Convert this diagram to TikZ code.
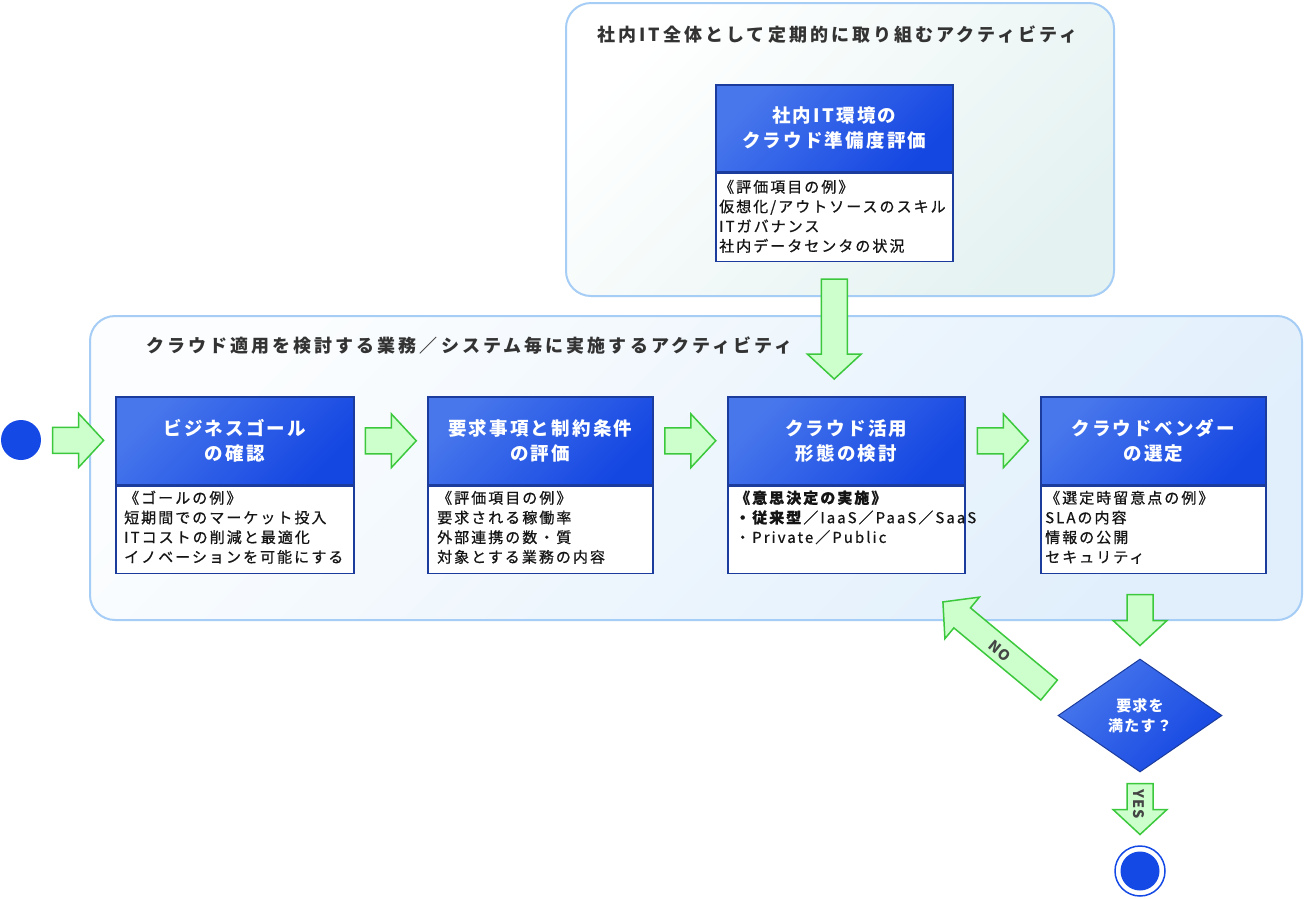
\documentclass[tikz,border=0pt]{standalone}
\usepackage{fontspec}
\usetikzlibrary{shapes.geometric,calc}
\newfontfamily\jpls{Noto Sans CJK JP}[LetterSpace=13.5, FakeBold=0.7]
\newfontfamily\jplsH{Noto Sans CJK JP}[LetterSpace=12]
\newfontfamily\jplsT{Noto Sans CJK JP}[LetterSpace=17]
\newfontfamily\jplab{Noto Sans CJK JP}[LetterSpace=8]
\definecolor{hdrA}{HTML}{4877EC}
\definecolor{hdrB}{HTML}{1446E2}
\definecolor{hdrLine}{HTML}{1B3C9C}
\definecolor{cntLine}{HTML}{A6CDF5}
\definecolor{cntA}{HTML}{FBFDFE}
\definecolor{cntB}{HTML}{E1EFFC}
\definecolor{topA}{HTML}{FFFFFF}
\definecolor{topB}{HTML}{E4F2F1}
\definecolor{arrFill}{HTML}{CCFFCC}
\definecolor{arrLine}{HTML}{3CC83C}
\definecolor{dotBlue}{HTML}{1449E6}
\definecolor{titleGray}{HTML}{333333}
\definecolor{bodyInk}{HTML}{151515}
\definecolor{labGray}{HTML}{444444}
\tikzset{
  container/.style={draw=cntLine, line width=2pt, rounded corners=25pt},
  hdr/.style={draw=hdrLine, line width=1.5pt, top color=hdrA, bottom color=hdrB, shading angle=45,
    inner sep=0pt, anchor=north west, text=white, align=center,
    font={\jplsH\bfseries\fontsize{18.5pt}{25pt}\selectfont}},
  bodyrect/.style={draw=hdrLine, line width=1.5pt, fill=white, inner sep=0pt, anchor=north},
  bodytxt/.style={anchor=west, inner sep=0pt, text=bodyInk, text height=13pt, text depth=2pt,
    font={\jpls\fontsize{15pt}{19.7pt}\selectfont}},
  titletxt/.style={anchor=west, inner sep=0pt, text=titleGray,
    font={\jplsT\bfseries\fontsize{18pt}{22pt}\selectfont}},
  arrstyle/.style={fill=arrFill, draw=arrLine, line width=1.5pt, line join=miter},
  labtxt/.style={inner sep=0pt, text=labGray, font={\jplab\bfseries\fontsize{14.5pt}{16pt}\selectfont}},
  pics/barrow/.style={code={
    \filldraw[arrstyle] ({-#1/2},-13) -- ({#1/2-25},-13) -- ({#1/2-25},-27) -- ({#1/2},0)
      -- ({#1/2-25},27) -- ({#1/2-25},13) -- ({-#1/2},13) -- cycle;
  }}
}
\begin{document}
\begin{tikzpicture}[x=1pt,y=1pt]
\useasboundingbox (0,0) rectangle (1304,-898);
\fill[white] (0,0) rectangle (1304,-898);

% containers
\draw[container, top color=topA, bottom color=topB, shading angle=45] (566,-3) rectangle (1114,-296);
\draw[container, top color=cntA, bottom color=cntB, shading angle=45] (90,-316) rectangle (1302,-620);
\node[titletxt] (t0) at (597,-35) {社内IT全体として定期的に取り組むアクティビティ};
\node[titletxt] (t1) at (146,-346) {クラウド適用を検討する業務／システム毎に実施するアクティビティ};

% top box
\node[hdr, minimum width=237pt, minimum height=87pt] (h0) at (715,-84) {社内IT環境の\\クラウド準備度評価};
\node[bodyrect, minimum width=237pt, minimum height=88pt] (d0) at (h0.south) {};
\node[bodytxt] (d0a) at (719,-187) {《評価項目の例》};
\node[bodytxt] (d0b) at (719,-206.7) {仮想化/アウトソースのスキル};
\node[bodytxt] (d0c) at (719,-226.4) {ITガバナンス};
\node[bodytxt] (d0d) at (719,-246.1) {社内データセンタの状況};

% box 1
\node[hdr, minimum width=238pt, minimum height=88pt] (h1) at (115,-396) {ビジネスゴール\\の確認};
\node[bodyrect, minimum width=238pt, minimum height=87pt] (d1) at (h1.south) {};
\node[bodytxt] (d1a) at (124,-498) {《ゴールの例》};
\node[bodytxt] (d1b) at (124,-517.7) {短期間でのマーケット投入};
\node[bodytxt] (d1c) at (124,-537.4) {ITコストの削減と最適化};
\node[bodytxt] (d1d) at (124,-557.1) {イノベーションを可能にする};

% box 2
\node[hdr, minimum width=225pt, minimum height=88pt] (h2) at (427,-396) {要求事項と制約条件\\の評価};
\node[bodyrect, minimum width=225pt, minimum height=87pt] (d2) at (h2.south) {};
\node[bodytxt] (d2a) at (437,-498) {《評価項目の例》};
\node[bodytxt] (d2b) at (437,-517.7) {要求される稼働率};
\node[bodytxt] (d2c) at (437,-537.4) {外部連携の数・質};
\node[bodytxt] (d2d) at (437,-557.1) {対象とする業務の内容};

% box 3
\node[hdr, minimum width=237pt, minimum height=88pt] (h3) at (727,-396) {クラウド活用\\形態の検討};
\node[bodyrect, minimum width=237pt, minimum height=87pt] (d3) at (h3.south) {};
\node[bodytxt] (d3a) at (735,-498) {\bfseries 《意思決定の実施》};
\node[bodytxt] (d3b) at (735,-517.7) {\textbf{・従来型}／IaaS／PaaS／SaaS};
\node[bodytxt] (d3c) at (735,-537.4) {・Private／Public};

% box 4
\node[hdr, minimum width=225pt, minimum height=88pt] (h4) at (1040,-396) {クラウドベンダー\\の選定};
\node[bodyrect, minimum width=225pt, minimum height=87pt] (d4) at (h4.south) {};
\node[bodytxt] (d4a) at (1045,-498) {《選定時留意点の例》};
\node[bodytxt] (d4b) at (1045,-517.7) {SLAの内容};
\node[bodytxt] (d4c) at (1045,-537.4) {情報の公開};
\node[bodytxt] (d4d) at (1045,-557.1) {セキュリティ};

% decision, start, end
\node[diamond, draw=hdrLine, line width=1pt, top color=hdrA, bottom color=hdrB, shading angle=45,
  minimum width=164pt, minimum height=113pt, inner sep=0pt, text=white, align=center,
  font={\jplab\bfseries\fontsize{15pt}{20pt}\selectfont}] (dia) at (1140,-715.5) {要求を\\満たす？};
\node[circle, fill=dotBlue, minimum size=40pt, inner sep=0pt] (start) at (21,-440) {};
\node[circle, draw=dotBlue, fill=white, line width=1.5pt, minimum size=50pt, inner sep=0pt] (endo) at (1140,-871) {};
\node[circle, fill=dotBlue, minimum size=39pt, inner sep=0pt] (endi) at (endo.center) {};

% block arrows (connectors)
\pic at ($(start.east)!0.5!(h1.west)$) {barrow=51};
\pic at ($(h1.east)!0.5!(h2.west)$) {barrow=51};
\pic at ($(h2.east)!0.5!(h3.west)$) {barrow=51};
\pic at ($(h3.east)!0.5!(h4.west)$) {barrow=51};
\pic[rotate=-90] at ($(d0.south)!0.5!(h3.north -| d0.south)$) {barrow=100};
\pic[rotate=-90] at ($(dia.north)+(0,38.5)$) {barrow=51};
\pic[rotate=-90] at ($(dia.south)+(0,-36.5)$) {barrow=51};
\coordinate (notail) at (1049,-690);
\coordinate (notip) at (943,-602);
\pic[rotate=140.3] at ($(notail)!0.5!(notip)$) {barrow=138};

\node[labtxt, rotate=-39.7] (nolab) at (1000,-651) {NO};
\node[labtxt, rotate=-90] (yeslab) at (1139,-804) {YES};
\end{tikzpicture}
\end{document}
